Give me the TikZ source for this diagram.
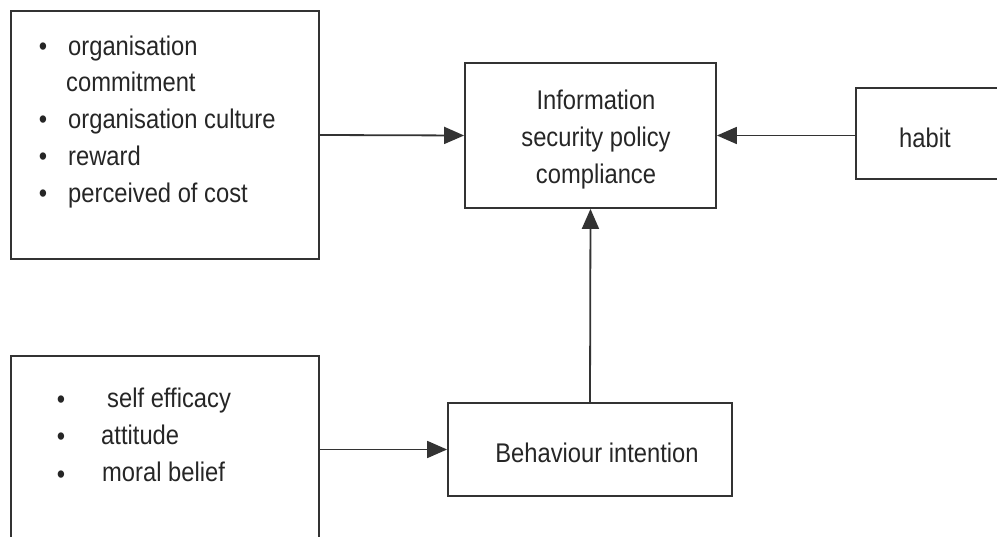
\documentclass[tikz,border=0pt]{standalone}
\usepackage{fontspec}
\setmainfont{Liberation Sans}[FakeStretch=0.88]
\usetikzlibrary{arrows.meta}
\definecolor{linec}{HTML}{333333}
\definecolor{textc}{HTML}{262626}
\begin{document}
\begin{tikzpicture}[x=1pt,y=-1pt,
  box/.style={draw=linec, line width=1.8pt, inner sep=0pt},
  txt/.style={text=textc, font=\fontsize{27}{37}\selectfont, inner sep=0pt},
  conn/.style={draw=linec, line width=1.8pt, -{Triangle[length=20pt,width=17pt]}}]
\useasboundingbox (0,0) rectangle (997,537);
\clip (0,0) rectangle (997,537);
% boxes
\node[box, minimum width=308pt, minimum height=248pt] (org) at (165,135) {};
\node[box, minimum width=251pt, minimum height=145pt] (isp) at (590.5,135.5) {};
\node[box, minimum width=144pt, minimum height=91pt] (habit) at (928,133.5) {};
\node[box, minimum width=308pt, minimum height=189pt] (self) at (165,450.5) {};
\node[box, minimum width=284pt, minimum height=93pt] (beh) at (590,449.5) {};
% texts
\node[txt, anchor=base] (b1) at (43,56) {•};
\node[txt, anchor=base west] (t1) at (68,56) {organisation};
\node[txt, anchor=base west] (t1b) at (66,92) {commitment};
\node[txt, anchor=base] (b2) at (43,129) {•};
\node[txt, anchor=base west] (t2) at (68,129) {organisation culture};
\node[txt, anchor=base] (b3) at (43,166) {•};
\node[txt, anchor=base west] (t3) at (68,166) {reward};
\node[txt, anchor=base] (b4) at (43,203) {•};
\node[txt, anchor=base west] (t4) at (68,203) {perceived of cost};
\node[txt, anchor=base] (s1) at (61,409) {•};
\node[txt, anchor=base west] (u1) at (107,408) {self efficacy};
\node[txt, anchor=base] (s2) at (61,446) {•};
\node[txt, anchor=base west] (u2) at (101,445) {attitude};
\node[txt, anchor=base] (s3) at (61,483) {•};
\node[txt, anchor=base west] (u3) at (102,482) {moral belief};
\node[txt, align=center] (ispt) at (596,140) {Information\\security policy\\compliance};
\node[txt] (habitt) at (925,138) {habit};
\node[txt] (beht) at (597,453) {Behaviour intention};
% connectors
\draw[conn] (org.east) -- (isp.west);
\draw[conn] (isp.east -| habit.west) -- (isp.east);
\draw[conn] (beh.west -| self.east) -- (beh.west);
\draw[conn] (beh.north) -- (isp.south);
\end{tikzpicture}
\end{document}
